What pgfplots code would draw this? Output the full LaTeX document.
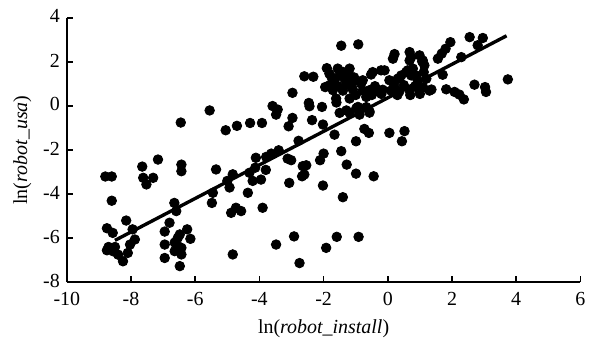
\documentclass[border=0pt]{standalone}
\usepackage{fontspec}
\setmainfont{Liberation Serif}
\usepackage{pgfplots}
\pgfplotsset{compat=1.18}
\begin{document}
\begin{tikzpicture}
\begin{axis}[
  at={(0,0)}, anchor=south west,
  scale only axis, width=257.5pt, height=132.5pt,
  xmin=-10, xmax=6, ymin=-8, ymax=4,
  xtick={-10,-8,...,6}, ytick={-8,-6,...,4},
  axis lines=left, axis line style={-, line width=0.8pt},
  tick align=inside, major tick length=3pt,
  tick style={black, line width=0.8pt},
  /pgf/number format/assume math mode=true,
  ticklabel style={font=\normalsize},
  xticklabel style={yshift=-1.5pt},
  yticklabel style={yshift=0.8pt},
  xlabel={ln(\textit{robot\_install})},
  xlabel style={yshift=0pt},
  ylabel={ln(\textit{robot\_usa})},
  ylabel style={yshift=-1pt},
  clip=false,
]
\addplot[only marks, mark=*, mark size=2.4pt, black] coordinates {
(-8.8,-3.2) (-8.6,-3.2) (-8.6,-4.3) (-8.75,-5.55) (-8.57,-5.76) (-8.7,-6.4) (-8.5,-6.4)
(-8.75,-6.55) (-8.55,-6.6) (-8.4,-6.75) (-8.25,-7.05) (-8.15,-5.2) (-7.95,-5.6) (-7.88,-6.06)
(-8.03,-6.29) (-8.1,-6.67) (-7.65,-2.75) (-7.62,-3.26) (-7.52,-3.56) (-7.31,-3.26) (-7.16,-2.43)
(-6.45,-0.75) (-6.43,-2.66) (-6.43,-2.96) (-6.65,-4.4) (-6.59,-4.77) (-6.8,-5.3) (-6.95,-5.7)
(-6.95,-6.29) (-6.95,-6.9) (-6.64,-6.2) (-6.54,-5.98) (-6.48,-5.83) (-6.64,-6.59) (-6.43,-6.44)
(-6.43,-6.74) (-6.48,-7.27) (-6.25,-5.6) (-6.15,-6.03) (-6.55,-6.35)
(-5.55,-0.2) (-5.45,-3.94) (-5.48,-4.4) (-5.35,-2.88) (-5.05,-1.1) (-4.7,-0.9) (-5.0,-3.4)
(-4.93,-3.7) (-4.83,-3.1) (-4.88,-4.85) (-4.73,-4.62) (-4.57,-4.77) (-4.83,-6.74) (-4.36,-3.94)
(-4.29,-0.77) (-3.92,-0.77) (-4.31,-3.03) (-4.21,-3.4) (-4.11,-2.35) (-4.13,-2.8) (-3.95,-3.34)
(-3.9,-4.62) (-3.79,-2.31) (-3.63,-2.16) (-3.8,-2.9) (-3.4,-2.01) (-3.59,0.0) (-3.43,-0.16)
(-3.48,-0.39) (-3.48,-6.29) (-3.09,-0.92) (-2.97,0.6) (-2.97,-0.54) (-3.12,-2.39) (-3.01,-2.46)
(-3.07,-3.49) (-2.92,-5.92) (-2.75,-7.13) (-2.78,-1.58)
(-2.65,-2.73) (-2.54,-2.69) (-2.67,-3.19) (-2.6,-3.11) (-2.11,-2.46) (-2.0,-2.16) (-1.45,-2.05)
(-1.28,-2.66) (-0.99,-3.07) (-0.44,-3.19) (-2.02,-3.61) (-1.4,-4.14) (-1.92,-6.44) (-1.59,-5.94)
(-0.91,-5.94) (-1.66,-1.3) (-0.73,-1.04) (-0.59,-1.22) (-0.99,-1.6) (0.05,-1.22) (0.52,-1.14)
(0.44,-1.6) (-2.36,-0.64) (-2.02,-0.84) (-2.46,0.14) (-2.44,-0.01) (-2.05,-0.04) (-1.6,0.16)
(-1.5,-0.31) (-1.19,-0.31) (-0.93,-0.04) (-0.88,-0.39) (-0.57,-0.24)
(-2.6,1.35) (-2.32,1.33) (-1.9,1.72) (-1.82,1.47) (-1.95,0.86) (-1.45,2.74) (-0.92,2.8)
(-1.19,1.7) (-1.56,1.7) (-1.5,1.39) (-1.35,1.24) (-1.66,1.17) (-1.82,0.94) (-1.09,1.09)
(-0.78,1.17) (-0.47,1.54) (-0.21,1.62) (0.05,1.17) (0.31,1.24) (0.62,1.62) (0.73,1.39)
(0.93,1.17) (1.2,1.24) (-0.83,1.02) (-1.71,0.72) (-1.4,0.7) (-1.09,0.75) (-0.78,0.7)
(-0.57,0.72) (-0.36,0.68) (-0.16,0.74) (0.1,0.7) (0.36,0.66) (0.68,0.7) (0.99,0.68) (1.3,0.7)
(-1.61,0.34) (-1.19,0.34) (-0.67,0.41) (-1.29,-0.2) (-0.98,-0.1) (-0.67,-0.05) (-0.57,-0.3)
(0.16,2.15) (0.68,2.07) (1.09,2.07) (1.56,2.15) (0.21,2.36) (0.68,2.45) (0.73,2.22) (0.99,2.3)
(1.07,2.03) (1.14,1.85) (1.12,1.54) (1.68,2.38) (1.8,2.6) (1.95,2.9) (2.29,2.22) (2.55,3.13)
(2.96,3.09) (2.8,2.76) (3.74,1.21) (2.7,0.97) (3.03,0.86) (3.06,0.64) (1.82,0.76) (2.08,0.64)
(2.23,0.52) (2.37,0.3) (1.71,1.42) (-0.1,1.62) (0.42,1.39) (0.57,1.54) (0.78,1.7) (0.88,1.39)
(-0.52,1.43) (0.36,1.28) (-0.4,0.9) (0.2,0.95) (0.5,0.95) (0.85,0.9) (1.1,0.85) (1.36,0.75)
(-1.3,0.95) (-1.0,0.5) (-0.5,0.5) (-0.2,0.55) (0.3,0.5) (0.7,0.5) (1.0,0.55) (-1.55,0.9)
(-1.2,1.4) (-1.4,1.55) (-1.05,1.3) (-1.75,1.3)
};
\addplot[black, line width=1.7pt] coordinates {(-8.5,-6.1) (3.7,3.19)};
\end{axis}
\path[use as bounding box] (-33.5pt,-30.5pt) rectangle (262.5pt,141.5pt);
\end{tikzpicture}
\end{document}
